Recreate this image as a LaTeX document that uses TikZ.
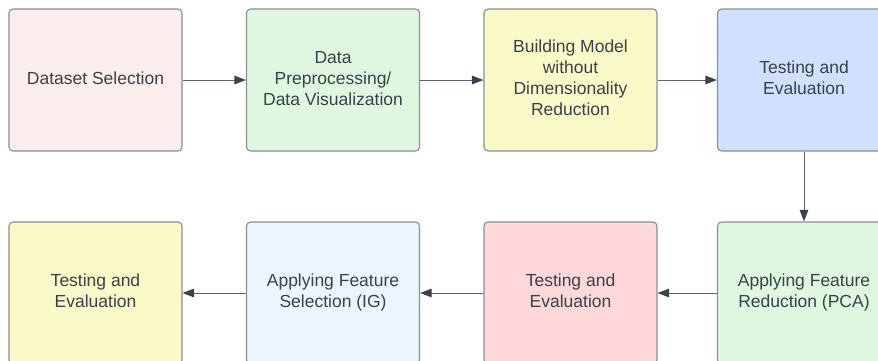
\documentclass[tikz,border=0pt]{standalone}
\usepackage{fontspec}
\setmainfont{Liberation Sans}
\usetikzlibrary{arrows.meta}
\definecolor{txt}{HTML}{3A414A}
\definecolor{bord}{HTML}{8A8D92}
\definecolor{arrc}{HTML}{3B4150}
\definecolor{linec}{HTML}{5F646B}
\definecolor{cpink}{HTML}{FDEEEE}
\definecolor{cgreen}{HTML}{E0F8E0}
\definecolor{cyellow}{HTML}{FAFAC8}
\definecolor{cblue}{HTML}{CFE1FE}
\definecolor{cred}{HTML}{FFD9D9}
\definecolor{cpale}{HTML}{ECF4FF}
\tikzset{
  stepbox/.style={draw=bord, line width=1.1pt, rounded corners=4pt,
    minimum width=173pt, minimum height=142pt, inner sep=0pt,
    align=center, text=txt, font=\fontsize{17.5}{21}\selectfont,
    execute at end node={\rule[-4pt]{0pt}{1pt}}},
  arr/.style={draw=linec, line width=1pt,
    -{Triangle[length=11.5pt,width=8.5pt,fill=arrc,color=arrc]}}
}
\begin{document}
\begin{tikzpicture}[x=1pt,y=-1pt]
\useasboundingbox (0,0) rectangle (878,360);
\clip (0,0) rectangle (878,360);
\node[stepbox, fill=cpink]   (b1) at (95.5,80) {Dataset Selection};
\node[stepbox, fill=cgreen]  (b2) at (333,80) {Data\\Preprocessing/\\Data Visualization};
\node[stepbox, fill=cyellow] (b3) at (570.5,80) {Building Model\\without\\Dimensionality\\Reduction};
\node[stepbox, fill=cblue]   (b4) at (804,80) {Testing and\\Evaluation};
\node[stepbox, fill=cgreen]  (b5) at (804,293) {Applying Feature\\Reduction (PCA)};
\node[stepbox, fill=cred]    (b6) at (570.5,293) {Testing and\\Evaluation};
\node[stepbox, fill=cpale]   (b7) at (333,293) {Applying Feature\\Selection (IG)};
\node[stepbox, fill=cyellow] (b8) at (95.5,293) {Testing and\\Evaluation};
\draw[arr] (b1.east) -- (b2.west);
\draw[arr] (b2.east) -- (b3.west);
\draw[arr] (b3.east) -- (b4.west);
\draw[arr] (b4.south) -- (b5.north);
\draw[arr] (b5.west) -- (b6.east);
\draw[arr] (b6.west) -- (b7.east);
\draw[arr] (b7.west) -- (b8.east);
\end{tikzpicture}
\end{document}
